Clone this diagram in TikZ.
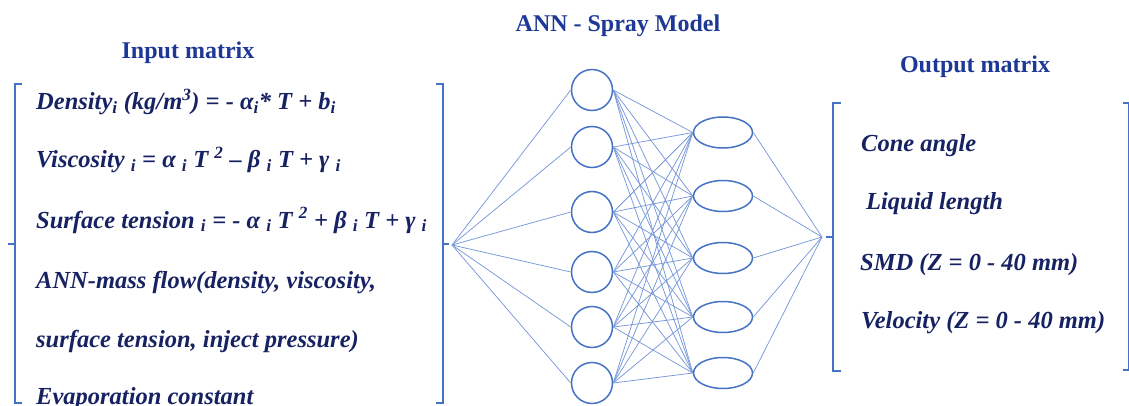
\documentclass[tikz,border=0pt]{standalone}
\usepackage{fontspec}
\setmainfont{Liberation Serif}
\definecolor{headblue}{RGB}{30,56,150}
\definecolor{itemblue}{RGB}{22,34,98}
\definecolor{linkblue}{RGB}{120,152,218}
\definecolor{ringblue}{RGB}{68,114,196}
\tikzset{
  neuron/.style={circle,draw=ringblue,line width=1.5pt,minimum size=41pt,inner sep=0pt},
  oval/.style={ellipse,draw=ringblue,line width=1.5pt,minimum width=59pt,minimum height=31pt,inner sep=0pt},
  link/.style={draw=linkblue,line width=0.75pt},
  bracket/.style={draw=ringblue,line width=1.6pt},
  heading/.style={font=\fontsize{24}{28}\selectfont\bfseries,text=headblue,inner sep=0pt,anchor=base},
  item/.style={font=\fontsize{24.5}{28}\selectfont\bfseries\itshape,text=itemblue,inner sep=0pt,anchor=base west},
}
\usetikzlibrary{shapes.geometric}
\begin{document}
\begin{tikzpicture}[x=1pt,y=-1pt]
\useasboundingbox (0,0) rectangle (1129,406);

% headings
\node[heading] (title) at (618,31.5) {ANN - Spray Model};
\node[heading] (inhead) at (188,59) {Input matrix};
\node[heading] (outhead) at (975,73) {Output matrix};

% input matrix entries
\node[item] (in1) at (36,110) {Density\textsubscript{i} (kg/m\textsuperscript{3}) = - α\textsubscript{i}* T + b\textsubscript{i}};
\node[item] (in2) at (36,168) {Viscosity \textsubscript{i} = α \textsubscript{i} T \textsuperscript{2} – β \textsubscript{i} T + γ \textsubscript{i}};
\node[item] (in3) at (36,228) {Surface tension \textsubscript{i} = - α \textsubscript{i} T \textsuperscript{2} + β \textsubscript{i} T + γ \textsubscript{i}};
\node[item] (in4) at (36,288) {ANN-mass flow(density, viscosity,};
\node[item] (in5) at (36,347) {surface tension, inject pressure)};
\node[item] (in6) at (36,404) {Evaporation constant};

% output matrix entries
\node[item] (out1) at (861,152) {Cone angle};
\node[item] (out2) at (866,210) {Liquid length};
\node[item] (out3) at (860,270) {SMD (Z = 0 - 40 mm)};
\node[item] (out4) at (861,328) {Velocity (Z = 0 - 40 mm)};

% input bracket
\draw[bracket] (22,84) -- (15,84) -- (15,403) -- (22,403);
\draw[bracket] (15,244) -- (8,244);
\draw[bracket] (436,84) -- (443,84) -- (443,403) -- (436,403);
\draw[bracket] (443,244) -- (449,244);
\coordinate (src) at (452,245);

% output bracket
\draw[bracket] (841,103) -- (833,103) -- (833,371) -- (841,371);
\draw[bracket] (833,237) -- (826,237);
\draw[bracket] (1123,103) -- (1129,103) -- (1129,370) -- (1123,370);
\coordinate (dst) at (822,237);

% first hidden layer
\foreach \i/\y in {1/90,2/147,3/212,4/272,5/327,6/383}
  \node[neuron] (a\i) at (592,\y) {};
% second hidden layer
\foreach \j/\y in {1/132.5,2/196,3/258,4/317,5/373}
  \node[oval] (b\j) at (723,\y) {};

% connections
\foreach \i in {1,...,6}
  \draw[link] (src) -- (a\i.west);
\foreach \i in {1,...,6}
  \foreach \j in {1,...,5}
    \draw[link] (a\i.east) -- (b\j.west);
\foreach \j in {1,...,5}
  \draw[link] (b\j.east) -- (dst);
\end{tikzpicture}
\end{document}
